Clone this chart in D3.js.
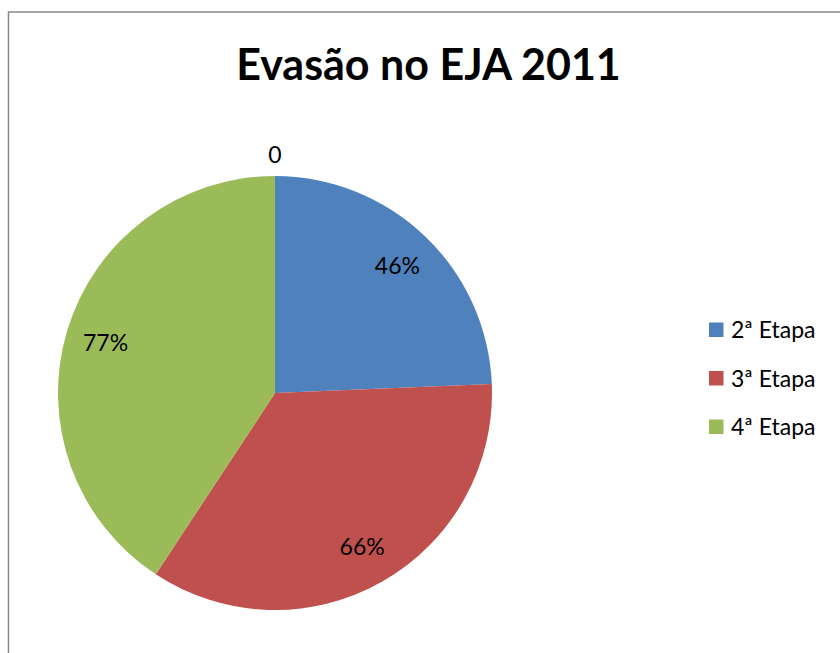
<!DOCTYPE html>
<html>
<head>
<meta charset="utf-8">
<script src="https://cdn.jsdelivr.net/npm/d3@7"></script>
<style>
  html, body { margin: 0; padding: 0; background: #fff; }
  svg { display: block; }
</style>
</head>
<body>
<svg id="chart" width="840" height="653"></svg>
<script>
// Dropout rates by stage (EJA 2011); the trailing zero point has no legend entry
const categories = ["2ª Etapa", "3ª Etapa", "4ª Etapa", ""];
const values = [46, 66, 77, 0];
const labels = ["46%", "66%", "77%", "0"];
const colors = ["#4F81BD", "#C0504D", "#9BBB59", "#8064A2"];
const title = "Evasão no EJA 2011";

const svg = d3.select("#chart");
const W = 840, H = 653;
const font = "Lato, 'Open Sans', sans-serif";

// chart frame
svg.append("rect")
  .attr("x", 8.5).attr("y", 12)
  .attr("width", W).attr("height", H)
  .attr("fill", "#fff")
  .attr("stroke", "#898989").attr("stroke-width", 1.5);

// title
svg.append("text")
  .attr("x", 428.5).attr("y", 80)
  .attr("text-anchor", "middle")
  .attr("font-family", font)
  .attr("font-weight", "bold")
  .attr("font-size", 43)
  .attr("fill", "#000")
  .text(title);

const cx = 275, cy = 393, R = 217;
const data = categories.map((c, i) => ({ category: c, value: values[i], label: labels[i], color: colors[i] }));

const pie = d3.pie().sort(null).value(d => d.value);
const arcs = pie(data);
const arc = d3.arc().innerRadius(0).outerRadius(R);
const labelArc = d3.arc().innerRadius(R * 0.815).outerRadius(R * 0.815);
const outerLabelArc = d3.arc().innerRadius(R + 21).outerRadius(R + 21);

const g = svg.append("g").attr("transform", `translate(${cx},${cy})`);

g.selectAll("path.slice")
  .data(arcs.filter(a => a.data.value > 0))
  .join("path")
  .attr("class", "slice")
  .attr("d", arc)
  .attr("fill", d => d.data.color);

g.selectAll("text.lbl")
  .data(arcs)
  .join("text")
  .attr("class", "lbl")
  .attr("transform", d => {
    const p = d.data.value > 0 ? labelArc.centroid(d) : outerLabelArc.centroid(d);
    return `translate(${p[0]},${p[1]})`;
  })
  .attr("text-anchor", "middle")
  .attr("dy", "0.36em")
  .attr("font-family", font)
  .attr("font-size", 23)
  .attr("fill", "#000")
  .text(d => d.data.label);

// legend
const legendItems = data.filter(d => d.category !== "");
const ly = d3.scalePoint().domain(legendItems.map(d => d.category)).range([330, 427]);
const legend = svg.append("g");
const row = legend.selectAll("g")
  .data(legendItems)
  .join("g")
  .attr("transform", d => `translate(709,${ly(d.category)})`);
row.append("rect")
  .attr("x", 0).attr("y", -7.5)
  .attr("width", 14.5).attr("height", 14.5)
  .attr("fill", d => d.color);
row.append("text")
  .attr("x", 22).attr("y", 0)
  .attr("dy", "0.36em")
  .attr("font-family", font)
  .attr("font-size", 23)
  .attr("fill", "#000")
  .text(d => d.category);
</script>
</body>
</html>
